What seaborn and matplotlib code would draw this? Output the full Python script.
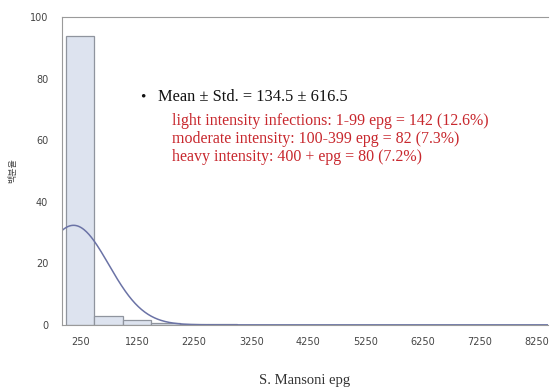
import numpy as np
import pandas as pd
import matplotlib
matplotlib.use("Agg")
import matplotlib.pyplot as plt
import seaborn as sns

# Data
bin_centers = [250, 750, 1250, 1750, 2250, 2750, 3250, 3750, 4250, 4750,
               5250, 5750, 6250, 6750, 7250, 7750, 8250]
percent = [94.0, 3.0, 1.5, 0.5, 0.3, 0.2, 0.1, 0.1, 0.1, 0.0,
           0.1, 0.1, 0.0, 0.1, 0.1, 0.1, 0.1]
mean_epg = 134.5
std_epg = 616.5
bin_width = 500
xtick_vals = [250, 1250, 2250, 3250, 4250, 5250, 6250, 7250, 8250]
ytick_vals = [0, 20, 40, 60, 80, 100]
stat_text = "Mean ± Std. = 134.5 ± 616.5"
red_lines = ["light intensity infections: 1-99 epg = 142 (12.6%)",
             "moderate intensity: 100-399 epg = 82 (7.3%)",
             "heavy intensity: 400 + epg = 80 (7.2%)"]

sns.set_style("white")
plt.rcParams['font.family'] = ['DejaVu Sans']

df = pd.DataFrame({"epg": bin_centers, "pct": percent})

fig = plt.figure(figsize=(5.5, 3.9), dpi=100)
ax = fig.add_axes([0.113, 0.167, 0.883, 0.789])

sns.histplot(data=df, x="epg", weights="pct", binwidth=bin_width, binrange=(0, 8500),
             color="#dde3ef", edgecolor="#8f949e", linewidth=0.9, alpha=1.0, ax=ax)

# Normal curve from mean and std, scaled to percent per bin
xs = np.linspace(-65, 8450, 600)
dens = np.exp(-0.5 * ((xs - mean_epg) / std_epg) ** 2) / (std_epg * np.sqrt(2 * np.pi))
curve = pd.DataFrame({"x": xs, "y": dens * bin_width * 100})
sns.lineplot(data=curve, x="x", y="y", color="#6b73a6", linewidth=1.1, ax=ax)

ax.set_xlim(-65, 8450)
ax.set_ylim(0, 100)
ax.set_xticks(xtick_vals)
ax.set_yticks(ytick_vals)
ax.tick_params(axis="both", labelsize=7, colors="#555555", length=4, width=0.6,
               direction="out")
ax.tick_params(axis="x", pad=5)
ax.tick_params(axis="y", pad=6)
for lab in ax.get_xticklabels() + ax.get_yticklabels():
    lab.set_color("#444444")
ax.set_xlabel("S. Mansoni epg", fontsize=10.5, family="Liberation Serif",
              color="#333333", labelpad=19)
ax.set_ylabel("백분율", fontsize=6.5, family=["Noto Sans CJK KR", "DejaVu Sans"],
              color="#444444", labelpad=9)
for s in ["left", "bottom", "top"]:
    ax.spines[s].set_color("#9a9a9a")
    ax.spines[s].set_linewidth(0.8)
ax.spines["right"].set_visible(False)

fig.text(140 / 550, 1 - 97 / 390, "•", fontsize=11, family="Liberation Serif",
         color="#111111", va="center")
fig.text(158 / 550, 1 - 97 / 390, stat_text, fontsize=11.8, family="Liberation Serif",
         color="#111111", va="center")
for i, t in enumerate(red_lines):
    fig.text(172 / 550, 1 - (121 + 18 * i) / 390, t, fontsize=11.5,
             family="Liberation Serif", color="#c8282e", va="center")

fig.savefig("out.png", dpi=100)
